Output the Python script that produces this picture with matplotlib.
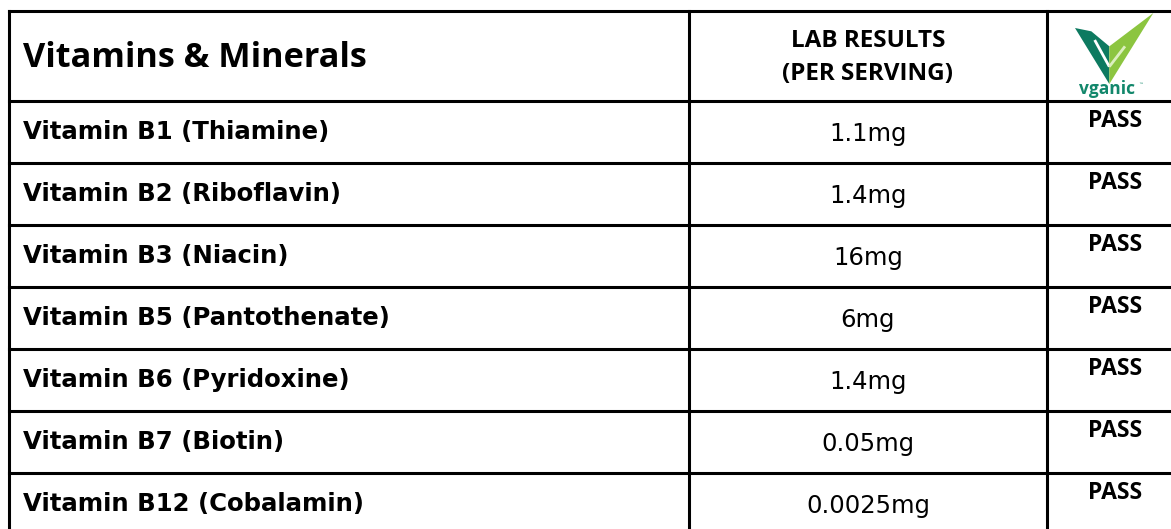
import matplotlib
matplotlib.use("Agg")
import matplotlib.pyplot as plt
from matplotlib.patches import Polygon

# ---- data ----
header_name = "Vitamins & Minerals"
header_result = ["LAB RESULTS", "(PER SERVING)"]
nutrients = ["Vitamin B1 (Thiamine)", "Vitamin B2 (Riboflavin)", "Vitamin B3 (Niacin)",
             "Vitamin B5 (Pantothenate)", "Vitamin B6 (Pyridoxine)", "Vitamin B7 (Biotin)",
             "Vitamin B12 (Cobalamin)"]
amounts = ["1.1mg", "1.4mg", "16mg", "6mg", "1.4mg", "0.05mg", "0.0025mg"]
results = ["PASS"] * 7
logo_text = "vganic"

W, H = 1171, 529
fig = plt.figure(figsize=(W / 100, H / 100), dpi=100)
ax = fig.add_axes([0, 0, 1, 1])
ax.set_xlim(0, W)
ax.set_ylim(H, 0)
ax.axis("off")

lw = 2.2
x_left, x_c1, x_c2, x_right = 9, 689, 1047, W + 5
y_top, y_head = 11, 101
row_h = 62
n = len(nutrients)
y_bottom = y_head + row_h * n

# grid lines
ax.plot([x_left, x_right], [y_top, y_top], color="black", lw=lw, solid_capstyle="projecting")
for i in range(n + 1):
    y = y_head + i * row_h
    ax.plot([x_left, x_right], [y, y], color="black", lw=lw, solid_capstyle="projecting")
for x in (x_left, x_c1, x_c2):
    ax.plot([x, x], [y_top, y_bottom], color="black", lw=lw, solid_capstyle="projecting")

cal = ["Open Sans", "DejaVu Sans"]
ari = ["DejaVu Sans"]

# header text
ax.text(23, 67, header_name, fontfamily=cal, fontweight="bold", fontsize=24.7,
        ha="left", va="baseline", color="black")
ax.text((x_c1 + x_c2) / 2, 47, header_result[0], fontfamily=cal, fontweight="bold",
        fontsize=17.5, ha="center", va="baseline", color="black")
ax.text((x_c1 + x_c2) / 2, 80, header_result[1], fontfamily=cal, fontweight="bold",
        fontsize=17.5, ha="center", va="baseline", color="black")

# rows
for i, (name, amt, res) in enumerate(zip(nutrients, amounts, results)):
    top = y_head + i * row_h
    ax.text(23, top + 37.5, name, fontfamily=ari, fontweight="bold",
            fontsize=17.6, ha="left", va="baseline", color="black")
    ax.text((x_c1 + x_c2) / 2, top + 39.5, amt, fontfamily=ari,
            fontsize=17.5, ha="center", va="baseline", color="black")
    ax.text(1115, top + 25.7, res, fontfamily=cal, fontweight="bold",
            fontsize=16.5, ha="center", va="baseline", color="black")

# vganic logo (approximate drawing)
def P(zx, zy):
    return (1070 + zx / 3.0, 8 + zy / 3.0)

dark = "#0d7a60"
lime = "#8cc540"
ax.add_patch(Polygon([P(15, 60), P(64, 70), P(118, 115), P(118, 228)], closed=True,
                     facecolor=dark, edgecolor="none"))
ax.add_patch(Polygon([P(118, 115), P(250, 15), P(118, 228)], closed=True,
                     facecolor=lime, edgecolor="none"))
ax.plot([P(74, 96)[0], P(118, 176)[0]], [P(74, 96)[1], P(118, 176)[1]],
        color="white", lw=2.0, solid_capstyle="butt")
ax.plot([P(118, 176)[0], P(165, 115)[0]], [P(118, 176)[1], P(165, 115)[1]],
        color="#dcefbf", lw=2.0, solid_capstyle="butt")
ax.text(1107, 94, logo_text, fontfamily=cal, fontweight="bold",
        fontsize=12.5, color="#12876b", ha="center", va="baseline")
ax.text(1141, 85, "\u2122", fontfamily=["DejaVu Sans"], fontsize=3.5, color="#12876b",
        ha="center", va="center")

fig.savefig("out.png", dpi=100, facecolor="white")
